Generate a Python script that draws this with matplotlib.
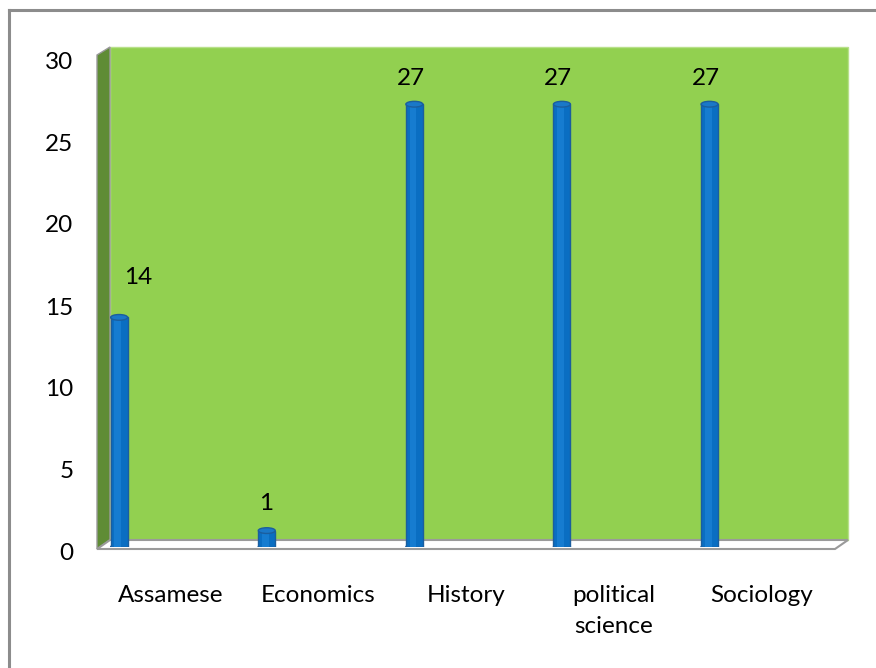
import matplotlib
matplotlib.use("Agg")
import matplotlib.pyplot as plt
from matplotlib.patches import Polygon, Ellipse
from matplotlib.transforms import ScaledTranslation

categories = ["Assamese", "Economics", "History", "political\nscience", "Sociology"]
values = [14, 1, 27, 27, 27]
yticks = [0, 5, 10, 15, 20, 25, 30]

W, H = 876, 668
plt.rcParams['font.family'] = ['Lato', 'DejaVu Sans']
fig = plt.figure(figsize=(W / 100, H / 100), dpi=100)
fig.patch.set_facecolor('white')

def F(x, y):
    return (x / W, 1 - y / H)

FS = 17.5

# outer border (top and left visible)
fig.add_artist(plt.Line2D([F(9, 0)[0], F(9, 0)[0]], [F(0, 10)[1], 0], color='#8c8c8c', lw=2.2))
fig.add_artist(plt.Line2D([F(9, 0)[0], 1], [F(0, 10)[1], F(0, 10)[1]], color='#8c8c8c', lw=2.2))

# back wall
fig.add_artist(Polygon([F(110, 47), F(848, 47), F(848, 540), F(110, 540)], closed=True,
                       facecolor='#92d050', edgecolor='#b8e08a', lw=1, zorder=0))
# side wall
fig.add_artist(Polygon([F(97, 55), F(110, 47), F(110, 540), F(97, 549)], closed=True,
                       facecolor='#5f8c35', edgecolor='#9a9a9a', lw=1, zorder=0))
# floor
fig.add_artist(Polygon([F(97, 549), F(835, 549), F(848, 540), F(110, 540)], closed=True,
                       facecolor='white', edgecolor='#9a9a9a', lw=1.5, zorder=0))

x0, x1, ytop, ybot = 97, 835, 55, 547
ax = fig.add_axes([x0 / W, 1 - ybot / H, (x1 - x0) / W, (ybot - ytop) / H])
ax.patch.set_alpha(0)
for s in ax.spines.values():
    s.set_visible(False)
ax.set_xlim(-0.5, len(categories) - 0.5)
ax.set_ylim(0, 30)

xs = list(range(len(categories)))
bar_off = -0.35
bw = 0.115
bx = [x + bar_off for x in xs]
ax.bar(bx, values, width=bw, color='#0a6ec2', edgecolor='#1b5e9e', linewidth=1.0, zorder=3)
# cylinder highlight
ax.bar([b - bw * 0.08 for b in bx], values, width=bw * 0.4, color='#167cd0', linewidth=0, zorder=4)
for b, v in zip(bx, values):
    ax.add_patch(Ellipse((b, v), bw, 0.35, facecolor='#1a78c8', edgecolor='#1b5e9e', lw=1, zorder=5))
    ax.add_patch(Ellipse((b, 0), bw, 0.35, facecolor='#0a6ec2', edgecolor='#1b5e9e', lw=1, zorder=2))

label_offsets = [(19, 40), (-1, 27), (-3, 26), (-4, 26), (-4, 26)]
for b, v, (dx, dy) in zip(bx, values, label_offsets):
    ax.annotate(str(v), (b, v), xytext=(dx, dy), textcoords='offset pixels',
                ha='center', va='center', fontsize=FS, color='black', zorder=6)

ax.set_yticks(yticks)
ax.set_yticklabels([str(t) for t in yticks], fontsize=FS)
ax.tick_params(axis='y', length=0, pad=17)
for lab in ax.get_yticklabels():
    lab.set_transform(lab.get_transform() + ScaledTranslation(0, -0.05, fig.dpi_scale_trans))

ax.set_xticks(xs)
ax.set_xticklabels(categories, fontsize=FS, linespacing=1.6)
ax.tick_params(axis='x', length=0, pad=27)

fig.savefig("out.png", dpi=100)
